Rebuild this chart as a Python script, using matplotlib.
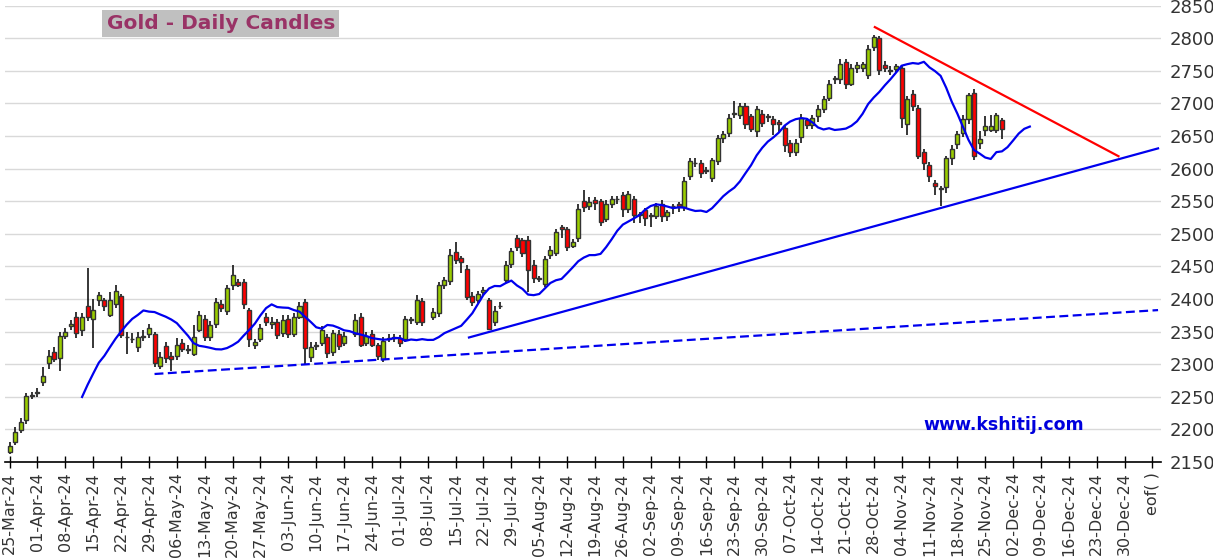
import numpy as np
import pandas as pd
import matplotlib.pyplot as plt

# daily candles (None = holiday gap)
opens = [2165, 2181, 2199, 2215, 2251, 2256, 2272, 2302, 2319, 2310,
         2344, 2358, 2372, 2352, 2389, 2369, 2398, 2398, 2376, 2392,
         2404, 2341, 2338, 2327, 2341, 2347, 2347, 2297, 2328, 2313,
         2313, 2333, 2322, 2316, 2353, 2369, 2341, 2361, 2393, 2381,
         2421, 2426, 2426, 2383, 2330, 2338, 2373, 2361, 2364, 2348,
         2369, 2347, 2373, 2395, 2311, 2330, 2333, 2341, 2318, 2347,
         2333, None, 2347, 2373, 2333, 2347, 2330, 2308, 2339, 2340,
         2340, 2338, 2368, 2365, 2397, None, 2372, 2378, 2421, 2428,
         2472, 2463, 2446, 2404, 2398, 2411, 2398, 2364, 2389, 2429,
         2454, 2493, 2490, 2490, 2452, 2431, 2423, 2468, 2470, 2510,
         2507, 2482, 2494, 2550, 2542, 2552, 2550, 2523, 2546, 2553,
         2560, 2538, 2553, 2529, 2536, 2528, 2528, 2546, 2528, 2542,
         2545, 2541, 2588, 2608, 2609, 2597, 2586, 2612, 2647, 2654,
         2684, 2682, 2696, 2681, 2657, 2684, 2679, 2676, 2672, 2662,
         2640, 2626, 2648, 2674, 2667, 2681, 2691, 2709, 2738, 2737,
         2763, 2730, 2755, 2755, 2743, 2786, 2800, 2759, 2750, 2752,
         2754, 2668, 2715, 2693, 2626, 2605, 2578, 2569, 2572, 2616,
         2637, 2654, 2676, 2716, 2639, 2659, 2659, 2659, 2675]
closes = [2175, 2196, 2212, 2252, 2253, 2257, 2282, 2313, 2308, 2344,
          2350, 2361, 2348, 2372, 2373, 2383, 2406, 2389, 2398, 2412,
          2345, 2342, 2339, 2342, 2344, 2356, 2302, 2311, 2310, 2308,
          2330, 2323, 2323, 2341, 2375, 2341, 2360, 2395, 2386, 2417,
          2437, 2422, 2393, 2338, 2334, 2356, 2364, 2365, 2345, 2368,
          2347, 2373, 2390, 2325, 2327, 2328, 2353, 2317, 2348, 2328,
          2344, None, 2368, 2330, 2344, 2330, 2313, 2336, 2340, 2341,
          2333, 2369, 2369, 2398, 2364, None, 2380, 2421, 2429, 2468,
          2460, 2457, 2403, 2395, 2407, 2414, 2354, 2381, 2390, 2452,
          2473, 2480, 2470, 2445, 2432, 2432, 2462, 2475, 2503, 2507,
          2480, 2487, 2538, 2541, 2549, 2547, 2518, 2546, 2553, 2554,
          2538, 2561, 2529, 2530, 2525, 2529, 2543, 2527, 2533, 2543,
          2542, 2581, 2611, 2609, 2593, 2598, 2613, 2647, 2653, 2678,
          2685, 2696, 2668, 2661, 2691, 2670, 2680, 2668, 2668, 2636,
          2626, 2640, 2678, 2667, 2678, 2691, 2707, 2730, 2739, 2761,
          2730, 2755, 2759, 2761, 2783, 2802, 2751, 2755, 2751, 2757,
          2678, 2707, 2696, 2619, 2608, 2588, 2573, 2570, 2616, 2630,
          2653, 2676, 2713, 2619, 2646, 2665, 2665, 2682, 2661]
highs = [2180, 2203, 2218, 2256, 2258, 2263, 2296, 2322, 2326, 2350,
         2356, 2368, 2380, 2378, 2448, 2400, 2411, 2402, 2410, 2422,
         2408, 2350, 2348, 2350, 2352, 2362, 2350, 2318, 2334, 2318,
         2340, 2338, 2330, 2360, 2382, 2375, 2366, 2402, 2398, 2422,
         2452, 2430, 2430, 2386, 2338, 2362, 2378, 2372, 2370, 2375,
         2376, 2378, 2396, 2400, 2334, 2334, 2358, 2346, 2352, 2352,
         2350, None, 2377, 2378, 2350, 2352, 2333, 2342, 2346, 2347,
         2345, 2374, 2372, 2406, 2402, None, 2386, 2426, 2434, 2476,
         2487, 2466, 2452, 2410, 2412, 2418, 2402, 2390, 2396, 2458,
         2478, 2498, 2494, 2496, 2460, 2436, 2466, 2482, 2507, 2513,
         2510, 2492, 2546, 2567, 2556, 2556, 2553, 2552, 2558, 2558,
         2564, 2566, 2558, 2534, 2540, 2532, 2548, 2552, 2537, 2546,
         2549, 2587, 2617, 2616, 2613, 2603, 2617, 2652, 2658, 2684,
         2704, 2700, 2700, 2684, 2696, 2690, 2683, 2680, 2674, 2666,
         2644, 2646, 2684, 2678, 2682, 2698, 2712, 2736, 2742, 2768,
         2768, 2760, 2764, 2764, 2790, 2805, 2803, 2765, 2758, 2761,
         2758, 2712, 2720, 2698, 2630, 2610, 2582, 2573, 2620, 2636,
         2658, 2682, 2716, 2722, 2658, 2681, 2682, 2686, 2678]
lows = [2163, 2176, 2194, 2208, 2247, 2250, 2267, 2292, 2303, 2290,
        2338, 2353, 2340, 2344, 2366, 2325, 2390, 2382, 2372, 2386,
        2340, 2316, 2332, 2318, 2336, 2340, 2296, 2292, 2302, 2290,
        2306, 2318, 2316, 2312, 2349, 2336, 2336, 2356, 2380, 2376,
        2414, 2418, 2384, 2326, 2324, 2334, 2358, 2354, 2338, 2342,
        2340, 2342, 2370, 2300, 2304, 2322, 2328, 2310, 2312, 2322,
        2328, None, 2342, 2326, 2328, 2326, 2306, 2304, 2334, 2334,
        2326, 2334, 2362, 2360, 2358, None, 2368, 2372, 2416, 2422,
        2454, 2440, 2398, 2390, 2394, 2404, 2352, 2358, 2384, 2424,
        2448, 2474, 2464, 2410, 2424, 2426, 2418, 2462, 2466, 2494,
        2474, 2478, 2488, 2534, 2536, 2536, 2512, 2518, 2540, 2546,
        2526, 2532, 2516, 2516, 2512, 2510, 2522, 2518, 2520, 2530,
        2534, 2535, 2582, 2602, 2586, 2592, 2580, 2606, 2640, 2648,
        2678, 2676, 2660, 2656, 2648, 2664, 2672, 2652, 2654, 2625,
        2618, 2620, 2640, 2660, 2660, 2672, 2686, 2704, 2730, 2730,
        2722, 2726, 2746, 2748, 2738, 2780, 2744, 2748, 2744, 2748,
        2662, 2652, 2688, 2615, 2598, 2580, 2560, 2542, 2562, 2606,
        2630, 2648, 2668, 2613, 2630, 2650, 2656, 2654, 2646]

week_starts = pd.date_range('2024-03-25', '2024-12-30', freq='W-MON')
tick_labels = [d.strftime('%d-%b-%y') for d in week_starts] + ['eof( )']

# trendlines: (day index, price) endpoints
red_line = ([155.2, 198.9], [2817, 2619])
blue_line = ([82.4, 206.0], [2341, 2631])
blue_dash = ([26.0, 206.0], [2285, 2383])

fig = plt.figure(figsize=(12.13, 5.58), dpi=100)
ax = fig.add_axes([0.004, 0.172, 0.953, 0.818])

up_col = '#99CC00'
dn_col = '#FF0000'
for i in range(len(opens)):
    if opens[i] is None:
        continue
    o, c, h, l = opens[i], closes[i], highs[i], lows[i]
    ax.vlines(i, l, h, color='black', lw=1.1, zorder=2)
    col = up_col if c >= o else dn_col
    body = max(abs(c - o), 0.8)
    ax.bar(i, body, bottom=min(o, c), width=0.72, color=col,
           edgecolor='#333333', linewidth=1.0, zorder=3)

# displaced moving average
cl = pd.Series([np.nan if v is None else v for v in closes], dtype=float)
idx = cl.dropna().index
ma = cl.dropna().rolling(9).mean()
ax.plot(np.array(idx) + 5, ma.values, color='#0000EE', lw=1.6, zorder=4)

ax.plot(*red_line, color='#FF0000', lw=1.6, zorder=4)
ax.plot(*blue_line, color='#0000EE', lw=1.6, zorder=4)
ax.plot(*blue_dash, color='#0000EE', lw=1.6, ls=(0, (4, 2)), zorder=4)

ax.set_xlim(-0.85, 206.5)
ax.set_ylim(2150, 2850)
ax.set_yticks(np.arange(2150, 2851, 50))
ax.yaxis.tick_right()
ax.yaxis.grid(True, color='#D9D9D9', lw=1)
ax.set_axisbelow(True)
ax.tick_params(axis='y', length=0, labelsize=13, labelcolor='#333333', pad=6)
ax.set_xticks(np.arange(len(tick_labels)) * 5)
ax.set_xticklabels(tick_labels, rotation=90, fontsize=11.5, color='#333333')
ax.tick_params(axis='x', direction='inout', length=8, width=1)
for s in ['top', 'left', 'right']:
    ax.spines[s].set_visible(False)
ax.spines['bottom'].set_linewidth(1.2)

ax.text(0.088, 0.982, 'Gold - Daily Candles', transform=ax.transAxes,
        fontsize=14.5, fontweight='bold', color='#993366', ha='left', va='top',
        bbox=dict(facecolor='#C0C0C0', edgecolor='none', pad=3))
ax.text(0.795, 0.082, 'www.kshitij.com', transform=ax.transAxes,
        fontsize=12.5, fontweight='bold', color='#0000DD', ha='left', va='center')

fig.savefig('out.png', dpi=100)
